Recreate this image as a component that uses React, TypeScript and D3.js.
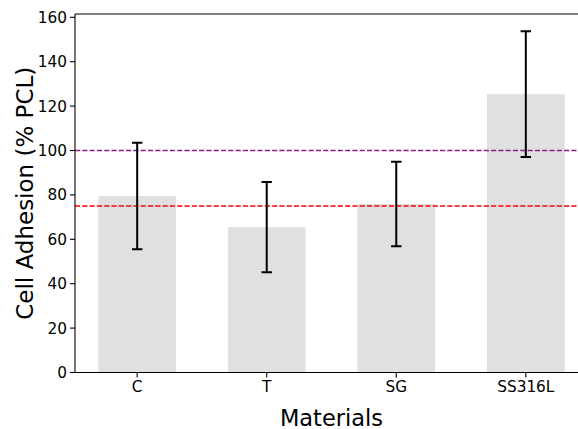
import React from "react";
import * as d3 from "d3";

const categories = ["C", "T", "SG", "SS316L"];
const means = [79.5, 65.5, 75.9, 125.4];
const errors = [24.0, 20.3, 19.0, 28.3];
const yTicks = [0, 20, 40, 60, 80, 100, 120, 140, 160];
const refLines = [
  { value: 100, color: "#8b1a8f" },
  { value: 75, color: "#ff0000" },
];

const W = 578;
const H = 429;
const left = 75;
const right = 588;
const top = 14;
const bottom = 372.5;

export default function App() {
  const x = d3
    .scaleLinear()
    .domain([-0.48, categories.length - 1 + 0.48])
    .range([left, right]);
  const y = d3.scaleLinear().domain([0, 161.5]).range([bottom, top]);
  const barW = x(0.6) - x(0);
  const font = "'DejaVu Sans', sans-serif";

  return (
    <svg
      width={W}
      height={H}
      style={{ position: "absolute", left: 0, top: 0, background: "#fff" }}
    >
      <defs>
        <clipPath id="plot">
          <rect x={left} y={top} width={right - left} height={bottom - top} />
        </clipPath>
      </defs>
      <g clipPath="url(#plot)">
        {categories.map((c, i) => (
          <rect
            key={c}
            x={x(i) - barW / 2}
            y={y(means[i])}
            width={barW}
            height={y(0) - y(means[i])}
            fill="#e0e0e0"
          />
        ))}
        {refLines.map((r) => (
          <line
            key={r.value}
            x1={left}
            x2={right}
            y1={y(r.value)}
            y2={y(r.value)}
            stroke={r.color}
            strokeWidth={1.4}
            strokeDasharray="5.1,2.2"
          />
        ))}
        {categories.map((c, i) => {
          const cx = x(i);
          const lo = y(means[i] - errors[i]);
          const hi = y(means[i] + errors[i]);
          return (
            <g key={c} stroke="#000" strokeWidth={2}>
              <line x1={cx} x2={cx} y1={lo} y2={hi} />
              <line x1={cx - 5.2} x2={cx + 5.2} y1={lo} y2={lo} />
              <line x1={cx - 5.2} x2={cx + 5.2} y1={hi} y2={hi} />
            </g>
          );
        })}
      </g>
      {/* spines */}
      <g stroke="#000" strokeWidth={1.1} fill="none">
        <line x1={left} x2={left} y1={top} y2={bottom} />
        <line x1={left} x2={right} y1={bottom} y2={bottom} />
        <line x1={left} x2={right} y1={top} y2={top} />
      </g>
      {/* y ticks */}
      {yTicks.map((t) => (
        <g key={t}>
          <line
            x1={left - 5}
            x2={left}
            y1={y(t)}
            y2={y(t)}
            stroke="#000"
            strokeWidth={1.1}
          />
          <text
            x={left - 8}
            y={y(t)}
            dy="0.36em"
            textAnchor="end"
            fontFamily={font}
            fontSize={15.3}
            fill="#000"
          >
            {t}
          </text>
        </g>
      ))}
      {/* x ticks */}
      {categories.map((c, i) => (
        <g key={c}>
          <line
            x1={x(i)}
            x2={x(i)}
            y1={bottom}
            y2={bottom + 5}
            stroke="#000"
            strokeWidth={1.1}
          />
          <text
            x={x(i)}
            y={bottom + 8}
            dy="0.76em"
            textAnchor="middle"
            fontFamily={font}
            fontSize={15.3}
            fill="#000"
          >
            {c}
          </text>
        </g>
      ))}
      <text
        x={(left + right) / 2}
        y={425.5}
        textAnchor="middle"
        fontFamily={font}
        fontSize={22.5}
        fill="#000"
      >
        Materials
      </text>
      <text
        transform={`translate(${33},${(top + bottom) / 2}) rotate(-90)`}
        textAnchor="middle"
        fontFamily={font}
        fontSize={23}
        fill="#000"
      >
        Cell Adhesion (% PCL)
      </text>
    </svg>
  );
}
